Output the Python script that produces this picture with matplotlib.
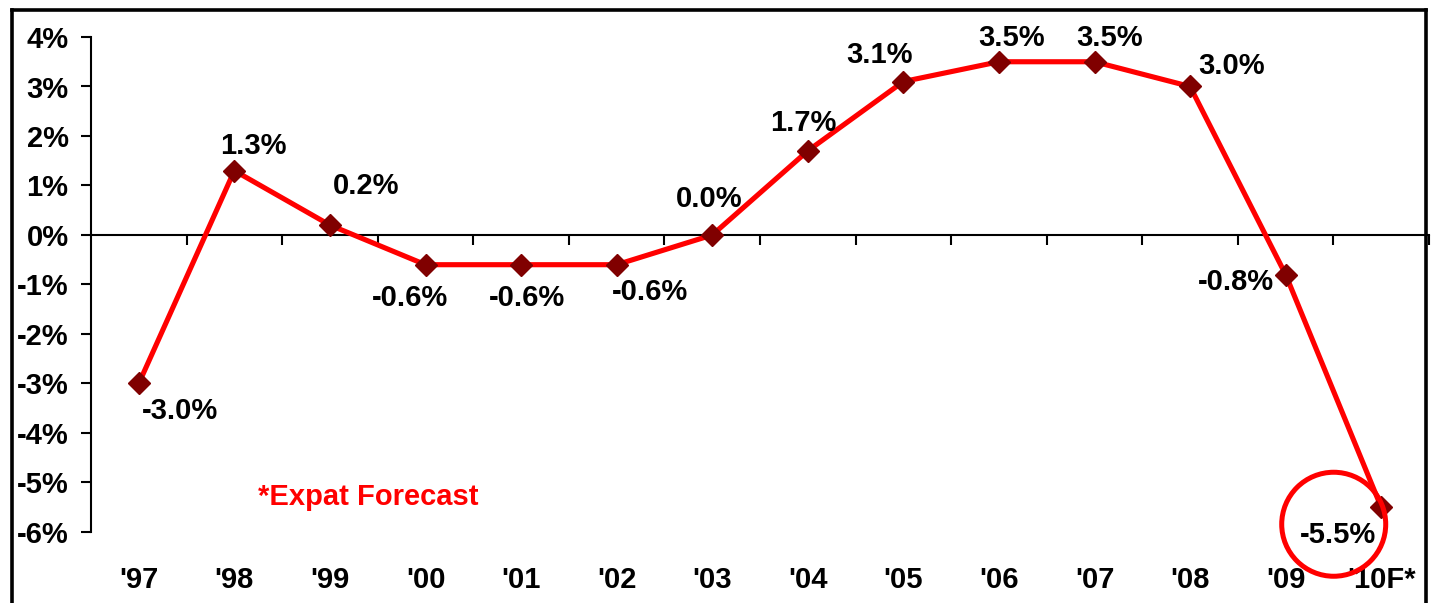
import matplotlib
matplotlib.use("Agg")
import matplotlib.pyplot as plt
from matplotlib.lines import Line2D
from matplotlib.patches import Circle
from matplotlib.transforms import ScaledTranslation

plt.rcParams['font.family'] = ['Liberation Sans', 'DejaVu Sans']
plt.rcParams['font.weight'] = 'bold'
plt.rcParams['axes.unicode_minus'] = False

# Annual growth rates, with the final year as a forecast
years = ["'97", "'98", "'99", "'00", "'01", "'02", "'03", "'04", "'05", "'06",
         "'07", "'08", "'09", "'10F*"]
growth = [-3.0, 1.3, 0.2, -0.6, -0.6, -0.6, 0.0, 1.7, 3.1, 3.5, 3.5, 3.0, -0.8, -5.5]
y_ticks = [-6, -5, -4, -3, -2, -1, 0, 1, 2, 3, 4]

# label offsets (points) relative to each marker
label_offsets = [(30, -20), (14, 18), (26, 28), (-11, -24), (4, -24), (24, -20),
                 (-2, 26), (-3, 20), (-17, 19), (9, 17), (11, 17), (30, 15),
                 (-36, -5), (-31, -20)]

fs = 21
fig = plt.figure(figsize=(14.33, 6.03), dpi=100)
ax = fig.add_axes([91 / 1433, 1 - 532 / 603, (1429 - 91) / 1433, (532 - 37) / 603])

x = list(range(len(years)))
ax.plot(x, growth, color='#ff0000', lw=3.7, marker='D', ms=11,
        markerfacecolor='#800000', markeredgecolor='#800000', zorder=3)

ax.set_xlim(-0.5, len(years) - 0.5)
ax.set_ylim(y_ticks[0], y_ticks[-1])

ax.spines['top'].set_visible(False)
ax.spines['right'].set_visible(False)
ax.spines['bottom'].set_position(('data', 0))
ax.spines['bottom'].set_linewidth(1.5)
ax.spines['left'].set_linewidth(1.5)

ax.set_yticks(y_ticks)
ax.set_yticklabels([f"{v}%" for v in y_ticks], fontsize=fs, fontweight='bold')
ax.tick_params(axis='y', direction='out', length=7.2, width=1.5, pad=9)

ax.set_xticks([i + 0.5 for i in range(len(years))])
ax.set_xticklabels([])
ax.tick_params(axis='x', direction='out', length=7.2, width=1.5)

# category labels sit under the plot area, not on the zero line
for i, lab in enumerate(years):
    ax.annotate(lab, xy=(i, y_ticks[0]), xytext=(0, -34.5), textcoords='offset points',
                ha='center', va='center', fontsize=fs, fontweight='bold')

for i, (v, off) in enumerate(zip(growth, label_offsets)):
    ax.annotate(f"{v:.1f}%", xy=(i, v), xytext=off, textcoords='offset points',
                ha='center', va='center', fontsize=fs, fontweight='bold', zorder=4)

# highlight ring around the forecast value
ring_tf = fig.dpi_scale_trans + ScaledTranslation(x[-1], growth[-1], ax.transData)
ax.add_patch(Circle((-0.475, -0.17), 0.52, transform=ring_tf, fill=False,
                    edgecolor='#ff0000', lw=3.6, clip_on=False, zorder=5))

ax.text(0.1248, 0.0707, "*Expat Forecast", transform=ax.transAxes, color='#ff0000',
        fontsize=fs, fontweight='bold', ha='left', va='center')

# outer frame
xl, xr, yt = 11.5 / 1433, 1425.5 / 1433, 1 - 10 / 603
for xs, ys in [([xl, xl], [-0.1, yt]), ([xl, xr], [yt, yt]), ([xr, xr], [yt, -0.1])]:
    fig.add_artist(Line2D(xs, ys, transform=fig.transFigure, color='black', lw=2.6,
                          solid_capstyle='projecting'))

fig.savefig("out.png", dpi=100)
